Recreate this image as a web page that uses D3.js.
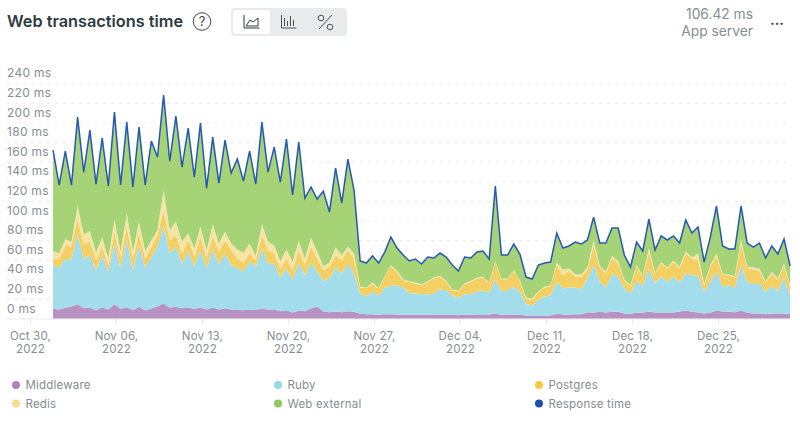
<!DOCTYPE html>
<html>
<head>
<meta charset="utf-8">
<script src="https://cdn.jsdelivr.net/npm/d3@7"></script>
<style>
html, body { margin: 0; padding: 0; background: #fff; }
svg { display: block; font-family: Inter, "Noto Sans", sans-serif; }
</style>
</head>
<body>
<div id="chart"></div>
<script>
// values in ms, one point every 12 hours
const middleware = [9.9,9.2,10.9,12.2,14.6,10.5,11.2,8.5,11.6,9.2,14.6,9.9,11.6,8.5,11.9,8.5,10.2,12.6,15.3,10.9,11.9,10.5,11.2,
	9.9,11.2,9.2,11.2,9.2,10.5,9.2,8.8,8.5,9.2,8.8,10.5,9.2,9.2,7.5,8.5,6.1,8.2,7.5,10.2,12.2,7.1,6.5,7.1,6.5,7.5,6.8,4.8,4.4,4.4,3.7,4.4,
	4.4,4.1,3.7,3.7,3.7,3.7,3.7,3.7,4.1,3.7,3.7,3.4,3.7,3.7,4.1,4.1,4.1,5.1,3.7,4.1,4.1,3.7,3.1,3.1,3.1,3.1,3.1,4.8,4.1,4.1,4.4,4.4,6.5,
	5.8,6.8,6.1,6.8,6.8,5.1,4.8,5.8,5.8,7.1,6.1,6.1,6.1,6.1,7.1,8.2,6.8,6.1,5.1,5.8,8.2,7.1,6.8,6.5,8.2,5.8,5.1,5.1,4.4,5.1,5.1,5.1,4.4];
const ruby = [44.5,42.8,49.6,48.3,71.1,50,53.4,40.8,53,38.4,61.9,41.1,68.3,40.8,62.9,43.5,52.7,60.5,79.9,55.4,61.2,45.6,56.8,
	43.5,58.5,41.8,59.2,46.2,55.8,45.2,42.2,39.8,48.6,43.9,60.9,46.9,46.9,34.3,42.5,33.7,48.6,36.7,46.6,35.4,31.3,34.3,44.9,39.4,48.6,39.1,20.1,18.4,22.8,19.4,26.9,
	28.9,29.6,27.9,22.1,21.8,21.4,20.7,21.8,25.5,25.2,20.1,17.7,21.1,21.4,23.1,24.8,22.1,34.7,24.1,24.8,28.2,23.5,11.6,10.2,15.6,19,20.7,32.6,26.5,27.5,27.2,25.2,34.3,
	48.6,31.3,25.5,38.4,35.7,25.5,20.7,32.3,27.5,43.9,29.6,37.1,31.3,36.4,29.6,37.7,37.4,37.4,22.1,31.6,39.4,25.2,26.9,24.8,46.2,31.6,29.9,30.6,22.8,27.9,23.1,35.7,19.4];
const postgres = [6.8,8.2,13.6,13.3,16.3,15.3,14.3,10.2,8.5,6.8,11.9,10.2,13.6,11.9,11.9,9.2,10.2,11.9,15.3,13.6,11.9,10.2,11.9,
	9.5,13.6,10.2,14.6,12.6,13.6,15.3,10.2,8.5,9.2,6.8,13.6,13.6,10.2,9.2,10.2,9.5,12.9,10.2,16.3,13.6,10.9,11.9,12.6,13.6,13.6,15.3,6.8,8.5,7.8,7.5,11.2,
	20.1,13.9,6.8,11.6,10.2,8.8,12.9,15.3,12.9,8.5,5.1,6.8,10.2,12.2,13.6,12.9,9.5,18,11.9,11.2,16.3,10.2,5.1,5.4,8.5,9.5,9.2,18,13.6,17,10.9,12.9,9.2,
	20.4,13.9,14.3,17,13.6,8.5,6.8,15.3,9.2,17,10.2,12.9,13.6,15.3,14.3,20.4,17,16,6.8,15.3,16,12.6,10.5,10.5,22.1,14.6,15,12.9,9.5,12.9,10.9,13.6,8.5];
const redis = [7.8,6.1,6.8,4.4,12.9,9.9,10.5,7.8,9.5,6.8,12.6,6.8,13.6,6.8,11.9,7.5,6.8,5.1,20.4,10.2,13.6,11.9,6.8,
	8.5,10.2,8.5,10.9,8.5,8.5,6.8,9.2,10.2,9.5,4.4,11.2,8.5,8.5,7.5,9.2,8.5,9.5,6.8,9.2,6.8,4.1,4.1,7.8,5.1,3.4,5.1,0.7,0.3,1.7,0.7,0.7,
	1,1,1.4,0.7,1,1,0.7,1,1,1,0.7,0.7,0.7,1,0.7,0.7,0.7,0.7,0.7,0.7,0.7,1,1.7,1.7,0.7,0.7,0.7,1.4,5.8,2.4,2.7,2.4,2,
	5.1,1.4,1.7,1.7,2.4,0.7,1.7,1,1,3.4,1,1.4,1,1.4,1.7,2.4,1,6.8,1.7,1.7,2.7,0.7,0.7,1.4,4.1,1,2,2.4,1,1.7,1.7,1.7,1.4];
const webExternal = [102.9,69.9,90,58,90.6,63.7,102.9,69.9,101.5,74,109.6,68.2,93.3,66.1,96.7,67.5,101.2,74.6,97.1,70.5,108,76.3,107.6,
	72.9,105.9,63.4,89.2,61.7,93.7,71.9,92.3,73.3,94.4,73.3,104.2,71.2,100.1,80.7,112.7,68.2,100.8,61.7,51.8,53.9,76.6,51.8,81.1,53.2,89.6,64.8,26.4,25,27.1,25.3,24.6,
	28.7,23.3,25,20.6,24,20.6,24.6,19.9,23.3,24.3,25,19.9,27,23.3,26.3,26.4,24.3,76.7,24.3,24,26.7,27.4,20.9,19.9,26.7,24.3,23.9,30.4,21.9,23,32.8,31.1,28.1,
	23.6,23.6,29.4,28.4,33.8,25,18.5,23.6,25.4,30.1,23,26.7,28.1,25,24.3,31.8,25,27,21.9,28.7,48.5,28.4,26,27.7,34.2,24,20.9,26,24,26.4,25,25,19.9];
const responseTime = [171.9,136.2,170.9,136.2,205.5,149.4,192.3,137.2,184.1,135.2,210.6,136.2,200.4,134.1,195.3,136.2,181.1,164.7,228,160.6,206.6,154.5,194.3,
	144.3,199.4,133.1,185.1,138.2,182.1,148.4,162.7,140.3,170.9,137.2,200.4,149.4,174.9,139.2,183.1,126,180,122.9,134.1,121.9,130,108.6,153.5,117.8,162.7,131.1,58.7,56.6,63.8,56.6,67.8,
	83.1,71.9,64.8,58.7,60.7,55.6,62.7,61.7,66.8,62.7,54.6,48.5,62.7,61.7,67.8,68.9,60.7,135.2,64.8,64.8,76,65.8,42.3,40.3,54.6,56.6,57.6,87.2,71.9,74,78,76,80.1,
	103.5,77,77,92.3,92.3,64.8,52.5,78,68.9,101.5,69.9,84.2,80.1,84.2,77,100.5,87.2,93.3,57.6,83.1,114.8,74,70.9,70.9,114.8,77,72.9,77,61.7,74,65.8,81.1,53.6];

const yTicks = d3.range(0, 241, 20);
const xTickDays = ["2022-10-30","2022-11-06","2022-11-13","2022-11-20","2022-11-27","2022-12-04","2022-12-11","2022-12-18","2022-12-25"];
const legendNames = ["Middleware","Ruby","Postgres","Redis","Web external","Response time"];
const legendColors = ["#b184bc","#94d8ea","#f5c842","#f4dd8f","#8fca5f","#1d4fb0"];

const width = 800, height = 425;
const layerKeys = ["middleware","ruby","postgres","redis","webExternal"];
const layerColors = ["#b792c2","#a3dcea","#f4d064","#f6e4a6","#a6d376"];
const layerValues = {middleware, ruby, postgres, redis, webExternal};

const parseDay = d3.utcParse("%Y-%m-%d");
const start = Date.UTC(2022, 9, 31, 21);
const times = responseTime.map((d, i) => new Date(start + i * 12 * 3600 * 1000));

const table = times.map((t, i) => {
	const row = {time: t};
	layerKeys.forEach(k => { row[k] = layerValues[k][i]; });
	return row;
});

const x = d3.scaleUtc()
	.domain([parseDay("2022-10-30"), parseDay("2022-12-25")])
	.range([30, 718]);
const y = d3.scaleLinear().domain([0, 240]).range([318.5, 83.3]);

const svg = d3.select("#chart").append("svg")
	.attr("width", width)
	.attr("height", height);

// header
svg.append("text").attr("x", 7).attr("y", 27)
	.attr("font-size", 16.3).attr("font-weight", 600).attr("fill", "#2e3a40")
	.text("Web transactions time");

svg.append("circle").attr("cx", 202).attr("cy", 21.5).attr("r", 8.8)
	.attr("fill", "none").attr("stroke", "#3b464c").attr("stroke-width", 1);
svg.append("text").attr("x", 202).attr("y", 26).attr("text-anchor", "middle")
	.attr("font-size", 13).attr("fill", "#3b464c").text("?");

svg.append("rect").attr("x", 231).attr("y", 8).attr("width", 116).attr("height", 28)
	.attr("rx", 4).attr("fill", "#e8eaeb");
svg.append("rect").attr("x", 233).attr("y", 10).attr("width", 37).attr("height", 24)
	.attr("rx", 3).attr("fill", "#fff");

const icons = svg.append("g").attr("fill", "none").attr("stroke", "#46525a").attr("stroke-width", 1);
icons.append("path").attr("d", "M244 15V28H259.5M246 26L250 20L253 22L258 18V26Z").attr("stroke", "#2e3a40");
icons.append("path").attr("d", "M281.5 15V28H296.5M284.5 18V26M287.5 21V26M290.5 16V26M293.5 20V26");
icons.append("path").attr("d", "M319 29L332 15");
icons.append("circle").attr("cx", 321).attr("cy", 18).attr("r", 2.8);
icons.append("circle").attr("cx", 330).attr("cy", 27).attr("r", 2.8);

svg.append("text").attr("x", 753).attr("y", 19).attr("text-anchor", "end")
	.attr("font-size", 13.8).attr("fill", "#858d92").text("106.42 ms");
svg.append("text").attr("x", 753).attr("y", 36).attr("text-anchor", "end")
	.attr("font-size", 13.8).attr("fill", "#858d92").text("App server");
svg.append("text").attr("x", 777).attr("y", 25).attr("text-anchor", "middle")
	.attr("font-size", 14).attr("font-weight", 700).attr("fill", "#3b464c").text("...");

// y axis : labels sit above their gridline
const yAxis = svg.append("g")
	.attr("transform", "translate(7,0)")
	.call(d3.axisRight(y).tickValues(yTicks).tickSize(784).tickFormat(d => d + " ms"));
yAxis.select(".domain").remove();
yAxis.selectAll("line")
	.attr("stroke", "#e7e9ea")
	.attr("stroke-dasharray", d => d === 0 ? null : "3,5");
yAxis.selectAll("text")
	.attr("x", 0).attr("dy", "-6.5")
	.attr("text-anchor", "start")
	.attr("font-family", "Inter, sans-serif")
	.attr("font-size", 12)
	.attr("letter-spacing", 0.3)
	.attr("fill", "#858d92");

// stacked areas
const stacked = d3.stack().keys(layerKeys)(table);
const area = d3.area()
	.x(d => x(d.data.time))
	.y0(d => y(d[0]))
	.y1(d => y(d[1]));

svg.append("g").selectAll("path")
	.data(stacked)
	.enter()
	.append("path")
	.attr("d", area)
	.attr("fill", (d, i) => layerColors[i]);

const line = d3.line()
	.x((d, i) => x(times[i]))
	.y(d => y(d));

svg.append("path")
	.datum(responseTime)
	.attr("d", line)
	.attr("fill", "none")
	.attr("stroke", "#2559b3")
	.attr("stroke-width", 1.5);

// x axis
const xAxis = svg.append("g")
	.attr("transform", "translate(0,319)")
	.call(d3.axisBottom(x).tickValues(xTickDays.map(parseDay)).tickSize(5).tickFormat(""));
xAxis.select(".domain").remove();
xAxis.selectAll("line").attr("stroke", "#e7e9ea");
const fmtDay = d3.utcFormat("%b %d,"), fmtYear = d3.utcFormat("%Y");
const tickText = xAxis.selectAll("text")
	.attr("y", 0).attr("dy", 0)
	.attr("font-family", "Inter, sans-serif")
	.attr("font-size", 11.5)
	.attr("letter-spacing", 0.2)
	.attr("fill", "#858d92");
tickText.append("tspan").attr("x", 0).attr("y", 21).text(d => fmtDay(d));
tickText.append("tspan").attr("x", 0).attr("y", 33.5).text(d => fmtYear(d));

// legend, three columns on two rows
const legendX = [16, 278, 539], legendY = [385, 403.5];
const legend = svg.append("g").selectAll("g")
	.data(legendNames)
	.enter()
	.append("g")
	.attr("transform", (d, i) => `translate(${legendX[i % 3]},${legendY[Math.floor(i / 3)]})`);
legend.append("circle").attr("r", 4).attr("fill", (d, i) => legendColors[i]);
legend.append("text").attr("x", 9.5).attr("y", 4)
	.attr("font-size", 11.5).attr("letter-spacing", 0.2).attr("fill", "#858d92")
	.text(d => d);
</script>
</body>
</html>
